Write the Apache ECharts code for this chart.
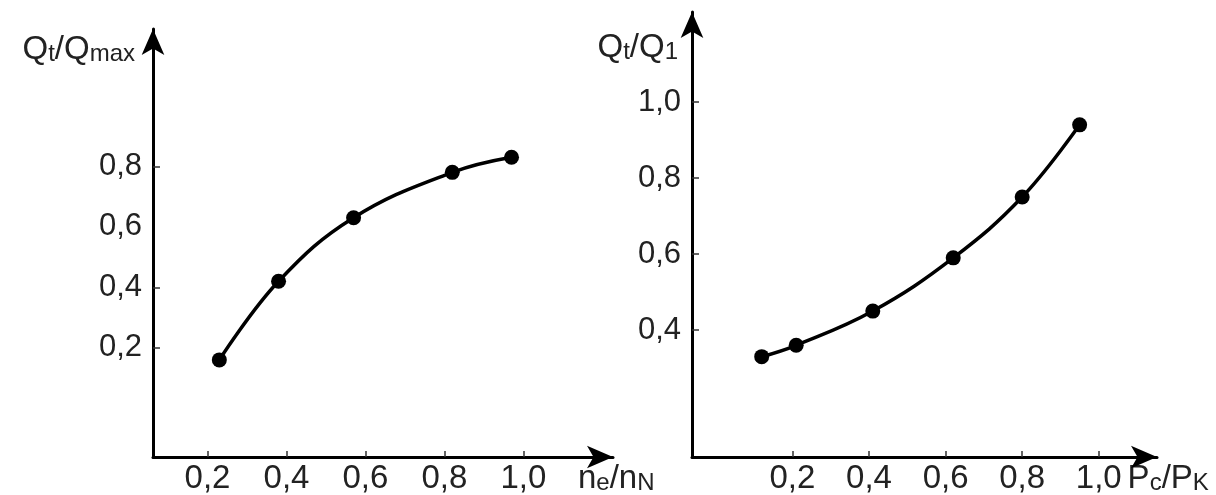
<!DOCTYPE html>
<html><head><meta charset="utf-8">
<script src="https://cdn.jsdelivr.net/npm/echarts@6/dist/echarts.min.js"></script>
<style>html,body{margin:0;padding:0;background:#fff}#c{width:1216px;height:495px}</style>
</head><body><div id="c"></div>
<script>
// Left chart: Qt/Qmax vs ne/nN
const leftX = [0.23, 0.38, 0.57, 0.82, 0.97];
const leftY = [0.16, 0.42, 0.63, 0.78, 0.83];
// Right chart: Qt/Q1 vs Pc/Pk
const rightX = [0.12, 0.21, 0.41, 0.62, 0.80, 0.95];
const rightY = [0.33, 0.36, 0.45, 0.59, 0.75, 0.94];
// Tick / label values
const leftXTicks = [0.2, 0.4, 0.6, 0.8, 1.0];
const leftYLabels = [0.2, 0.4, 0.6, 0.8];
const leftYTicks = [0.2, 0.4, 0.8];
const rightXTicks = [0.2, 0.4, 0.6, 0.8, 1.0];
const rightYTicks = [0.4, 0.6, 0.8, 1.0];

const FONT = '"Liberation Sans", Arial, sans-serif';
const fmt = v => Number(v).toFixed(1).replace('.', ',');
const richName = {
  q: { fontSize: 33, fontFamily: FONT, color: '#222' },
  s: { fontSize: 24, fontFamily: FONT, color: '#222', verticalAlign: 'bottom' }
};
const axisLine = { show: true, onZero: false, symbol: ['none', 'arrow'], symbolSize: [17, 26], lineStyle: { color: '#000', width: 3 } };

function xAxisCfg(idx, min, max, ticks, name) {
  return {
    type: 'value', gridIndex: idx, min: min, max: max,
    axisLine: axisLine,
    axisTick: { show: true, inside: true, length: 6, customValues: ticks, lineStyle: { color: '#333', width: 1.5 } },
    axisLabel: { customValues: ticks, formatter: fmt, fontSize: 33, fontFamily: FONT, color: '#222', margin: 5 },
    splitLine: { show: false },
    name: name, nameLocation: 'end', nameGap: -35,
    nameTextStyle: { align: 'left', verticalAlign: 'top', padding: [5, 0, 0, 0], rich: richName }
  };
}
function yAxisCfg(idx, min, max, ticks, labels, name, padRight, gap) {
  return {
    type: 'value', gridIndex: idx, min: min, max: max,
    axisLine: axisLine,
    axisTick: { show: true, inside: true, length: 7, customValues: ticks, lineStyle: { color: '#333', width: 1.5 } },
    axisLabel: { customValues: labels, formatter: fmt, fontSize: 31, fontFamily: FONT, color: '#222', margin: 11 },
    splitLine: { show: false },
    name: name, nameLocation: 'end', nameGap: gap,
    nameTextStyle: { align: 'right', verticalAlign: 'middle', padding: [0, padRight, 0, 0], rich: richName }
  };
}

const chart = echarts.init(document.getElementById('c'));
chart.setOption({
  backgroundColor: '#fff',
  animation: false,
  grid: [
    { left: 153, top: 29, width: 460, height: 431 },
    { left: 692, top: 12, width: 465, height: 447 }
  ],
  xAxis: [
    xAxisCfg(0, 0.062, 1.227, leftXTicks, '{q|n}{s|e}{q|/n}{s|N}'),
    xAxisCfg(1, -0.062, 1.152, rightXTicks, '{q|P}{s|c}{q|/P}{s|K}')
  ],
  yAxis: [
    yAxisCfg(0, -0.161, 1.254, leftYTicks, leftYLabels, '{q|Q}{s|t}{q|/Q}{s|max}', 18, -21),
    yAxisCfg(1, 0.066, 1.237, rightYTicks, rightYTicks, '{q|Q}{s|t}{q|/Q}{s|1}', 14, -36)
  ],
  series: [
    {
      type: 'line', xAxisIndex: 0, yAxisIndex: 0, smooth: 0.4,
      data: leftX.map((x, i) => [x, leftY[i]]),
      symbol: 'circle', symbolSize: 15,
      lineStyle: { color: '#000', width: 3.5 }, itemStyle: { color: '#000' }
    },
    {
      type: 'line', xAxisIndex: 1, yAxisIndex: 1, smooth: 0.4,
      data: rightX.map((x, i) => [x, rightY[i]]),
      symbol: 'circle', symbolSize: 15,
      lineStyle: { color: '#000', width: 3.5 }, itemStyle: { color: '#000' }
    }
  ]
});
</script></body></html>
